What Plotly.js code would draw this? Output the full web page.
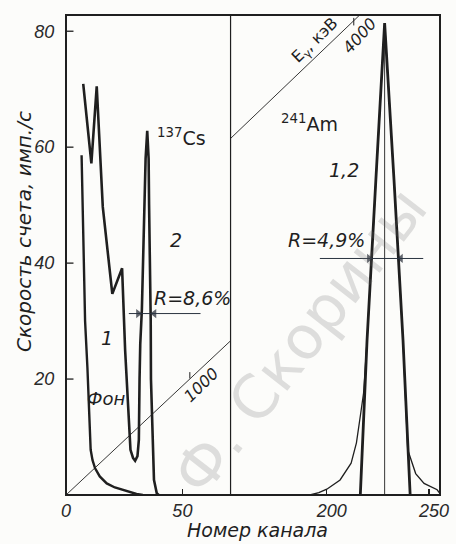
<!DOCTYPE html>
<html>
<head>
<meta charset="utf-8">
<script src="https://cdn.plot.ly/plotly-3.0.1.min.js"></script>
<style>html,body{margin:0;padding:0;background:#fcfcfa;}#chart{width:456px;height:544px;}</style>
</head>
<body>
<div id="chart"></div>
<script>
// ---- data ----
// background spectrum "Фон" (left part of the broken channel axis)
const fonChannel = [6.7, 7.2, 7.6, 8.2, 9.2, 9.8, 10.2, 10.6, 11.4, 12.5, 14.5, 17.5, 21.0, 24.6, 28.0, 30.3, 33.0];
const fonRate    = [58.6, 50.0, 40.0, 30.0, 22.0, 16.0, 11.0, 7.8, 6.0, 4.6, 3.2, 2.0, 1.3, 0.9, 0.4, 0.17, 0.0];

// 137Cs spectrum (curves 1, 2)
const csChannel = [7.4, 10.9, 13.2, 15.8, 19.9, 24.1, 25.4, 26.5, 27.7, 28.8, 29.7, 30.7, 31.3, 31.6, 31.9, 32.6, 33.1, 33.8, 34.2, 34.9, 35.5, 35.7, 36.2, 36.4, 36.5, 37.1, 37.8, 39.0, 39.8];
const csRate    = [70.9, 57.2, 70.5, 49.7, 34.7, 39.1, 25.0, 16.4, 7.8, 6.4, 5.9, 6.7, 9.5, 20.0, 26.0, 32.0, 40.0, 50.0, 58.0, 62.8, 58.0, 50.0, 40.0, 30.0, 20.0, 9.5, 2.6, 0.3, 0.0];

// 241Am spectrum, curve 1 (thick) and curve 2 (thin, with tails)
const am1Channel = [216.4, 219.7, 224.0, 228.3, 232.9, 237.3, 240.8];
const am1Rate    = [0.0, 26.7, 54.3, 81.4, 54.3, 26.7, 0.0];
const am2Channel = [191.7, 196.1, 200.0, 206.5, 211.9, 214.5, 216.6, 218.0, 219.7, 224.0, 228.3, 232.9, 237.3, 239.6, 241.9, 243.5, 247.6, 254.0, 255.3];
const am2Rate    = [0.0, 0.4, 1.0, 2.6, 5.5, 9.0, 14.1, 17.6, 26.7, 54.3, 81.4, 54.3, 26.7, 7.8, 5.5, 3.7, 2.0, 0.9, 0.3];
const amPeakChannel = [228.3];
const amPeakRate    = [80.0];

// energy scale E_gamma (keV) drawn as a diagonal line
const energyLeftChannel  = [0.0, 70.7];
const energyLeftRate     = [0.0, 26.6];
const energyRightChannel = [152.9, 216.1];
const energyRightRate    = [61.5, 82.8];
const energyTickChannel  = [53.2, 213.2];
const energyTickRate     = [20.1, 81.3];
const energyTickLabels   = ['1000', '4000'];

// resolution markers (FWHM)
const csFwhm = {rate: 31.3, left: 32.5, right: 36.4, from: 27.0, to: 57.8};
const amFwhm = {rate: 40.8, left: 222.4, right: 234.5, from: 196.6, to: 247.2};

// axes
const yTicks = [20, 40, 60, 80];
const xTicksLeft = [0, 50];
const xTicksRight = [200, 250];
const leftRange = [0, 70.7];
const rightRange = [152.9, 255.4];
const yRange = [0, 82.8];

// ---- drawing ----
const ink = '#1f1f1f';
const lab = 'DejaVu Sans, Liberation Sans, sans-serif';
const tickFamily = 'Liberation Sans, sans-serif';

function line(x, y, xa, w) {
  return {x: x, y: y, xaxis: xa, yaxis: 'y', type: 'scatter', mode: 'lines',
          line: {color: ink, width: w}, hoverinfo: 'skip', showlegend: false, cliponaxis: true};
}
function heads(f, xa, off) {
  // arrow heads touching the peak flanks at half maximum
  return {x: [f.left - off, f.right + off], y: [f.rate, f.rate], xaxis: xa, yaxis: 'y', type: 'scatter', mode: 'markers',
          marker: {symbol: ['triangle-right', 'triangle-left'], size: [8, 8], color: '#1f2530', line: {width: 0}},
          hoverinfo: 'skip', showlegend: false, cliponaxis: false};
}
const traces = [
  line(energyLeftChannel, energyLeftRate, 'x', 0.9),
  line(energyRightChannel, energyRightRate, 'x2', 0.9),
  line(fonChannel, fonRate, 'x', 2.4),
  line(csChannel, csRate, 'x', 2.6),
  line(am2Channel, am2Rate, 'x2', 1.3),
  line(am1Channel, am1Rate, 'x2', 2.8),
  heads(csFwhm, 'x', 1.5),
  heads(amFwhm, 'x2', 1.7)
];

const shapes = [
  {type: 'rect', xref: 'paper', yref: 'paper', x0: 0, x1: 1, y0: 0, y1: 1, line: {color: ink, width: 2}},
  {type: 'line', xref: 'paper', yref: 'paper', x0: 0.44, x1: 0.44, y0: 0, y1: 1, line: {color: ink, width: 1.2}},
  {type: 'line', xref: 'x2', yref: 'y', x0: amPeakChannel[0], x1: amPeakChannel[0], y0: 0, y1: amPeakRate[0], line: {color: ink, width: 0.9}},
  {type: 'line', xref: 'x', yref: 'y', x0: csFwhm.from, x1: csFwhm.to, y0: csFwhm.rate, y1: csFwhm.rate, line: {color: '#2a3440', width: 1}},
  {type: 'line', xref: 'x2', yref: 'y', x0: amFwhm.from, x1: amFwhm.to, y0: amFwhm.rate, y1: amFwhm.rate, line: {color: '#2a3440', width: 1}},
  {type: 'line', xref: 'x', yref: 'y', x0: energyTickChannel[0], x1: energyTickChannel[0], y0: energyTickRate[0], y1: energyTickRate[0] + 1.1, line: {color: ink, width: 1}},
  {type: 'line', xref: 'x2', yref: 'y', x0: energyTickChannel[1], x1: energyTickChannel[1], y0: energyTickRate[1] - 0.3, y1: energyTickRate[1] + 1.0, line: {color: ink, width: 1}}
].concat(yTicks.map(v => ({type: 'line', xref: 'paper', yref: 'y', x0: 0, x1: 0.02, y0: v, y1: v, line: {color: ink, width: 1.3}})));

function txt(t, x, y, xref, opts) {
  opts = opts || {};
  return {text: t, x: x, y: y, xref: xref, yref: opts.yref || 'y', showarrow: false,
    font: {family: lab, size: opts.size || 19, color: ink, style: opts.italic === false ? 'normal' : 'italic'},
    textangle: opts.angle || 0, xanchor: 'center', yanchor: 'middle'};
}

const annotations = [
  // watermark of the scanned page
  {text: 'Ф. Скорины', xref: 'paper', yref: 'paper', x: 0.625, y: 0.32, showarrow: false, textangle: -52,
   xanchor: 'center', yanchor: 'middle',
   font: {family: 'DejaVu Sans, sans-serif', size: 60, color: 'rgba(110,110,110,0.21)'}},
  txt('Скорость счета, имп./с', -0.112, 0.548, 'paper', {yref: 'paper', angle: -90, size: 20}),
  txt('Номер канала', 0.511, -0.072, 'paper', {yref: 'paper', size: 19}),
  txt('<sup>137</sup>Cs', 49.7, 61.7, 'x', {italic: false, size: 19}),
  txt('2', 47.1, 44.0, 'x'),
  txt('R=8,6%', 54.4, 34.0, 'x'),
  txt('1', 17.8, 27.1, 'x'),
  txt('Фон', 17.4, 16.7, 'x', {size: 18}),
  txt(energyTickLabels[0], 58.3, 19.0, 'x', {angle: -44, size: 16}),
  txt('E<sub>γ</sub>, кэВ', 194.4, 78.4, 'x2', {angle: -44, size: 16, italic: false}),
  txt(energyTickLabels[1], 216.1, 79.3, 'x2', {angle: -48, size: 16}),
  txt('<sup>241</sup>Am', 191.4, 64.1, 'x2', {italic: false, size: 19}),
  txt('1,2', 208.3, 56.0, 'x2'),
  txt('R=4,9%', 200.0, 44.0, 'x2')
];

const tickFont = {family: tickFamily, size: 18, color: '#2a2a2a', style: 'italic'};
const xCommon = {showgrid: false, zeroline: false, showline: false, ticks: 'inside', ticklen: 6, tickwidth: 1.3,
                 tickcolor: ink, tickfont: tickFont, fixedrange: true, anchor: 'y', ticklabelstandoff: 3};

const layout = {
  width: 456, height: 544,
  margin: {l: 66, r: 16, t: 15, b: 49, pad: 0},
  paper_bgcolor: '#fcfcfa', plot_bgcolor: '#fcfcfa',
  showlegend: false,
  xaxis: Object.assign({}, xCommon, {domain: [0, 0.44], range: leftRange, tickvals: xTicksLeft, ticktext: xTicksLeft.map(String)}),
  xaxis2: Object.assign({}, xCommon, {domain: [0.44, 1], range: rightRange, tickvals: xTicksRight, ticktext: xTicksRight.map(String), ticklabelshift: 5}),
  // invisible outside ticks keep the labels clear of the frame; visible inside ticks are drawn as shapes
  yaxis: {range: yRange, tickvals: yTicks, ticktext: yTicks.map(String), showgrid: false, zeroline: false, showline: false,
          ticks: 'outside', ticklen: 7, tickwidth: 1, tickcolor: 'rgba(0,0,0,0)', tickfont: tickFont, fixedrange: true, anchor: 'x'},
  shapes: shapes,
  annotations: annotations
};

Plotly.newPlot('chart', traces, layout, {displayModeBar: false, staticPlot: true});
</script>
</body>
</html>
